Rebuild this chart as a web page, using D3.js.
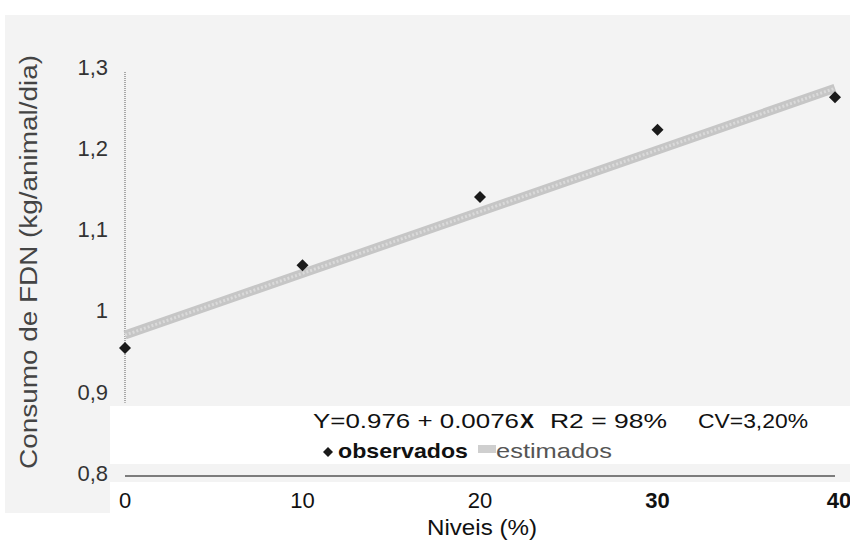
<!DOCTYPE html>
<html>
<head>
<meta charset="utf-8">
<script src="https://cdn.jsdelivr.net/npm/d3@7"></script>
<style>
  body { margin: 0; background: #fff; }
  svg { display: block; font-family: "Liberation Sans", Arial, sans-serif; }
</style>
</head>
<body>
<svg id="chart" width="850" height="551"></svg>
<script>
// observed FDN intake per level
const niveis = [0, 10, 20, 30, 40];
const observados = [0.96, 1.062, 1.146, 1.229, 1.269];
// regression Y = 0.976 + 0.0076X
const intercept = 0.976;
const slope = 0.0076;
const yTicks = [0.8, 0.9, 1.0, 1.1, 1.2, 1.3];
const xTicks = [0, 10, 20, 30, 40];

const svg = d3.select('#chart');

const x = d3.scaleLinear().domain([0, 40]).range([125, 835]);
const y = d3.scaleLinear().domain([0.8, 1.3]).range([478, 72]);

// scanned page background
svg.append('rect')
    .attr('x', 5).attr('y', 15)
    .attr('width', 845).attr('height', 498)
    .attr('fill', '#f3f3f3');

// white patches pasted over the scan
svg.append('rect')
    .attr('x', 110).attr('y', 482)
    .attr('width', 740).attr('height', 69)
    .attr('fill', '#fff');
svg.append('rect')
    .attr('x', 110).attr('y', 406)
    .attr('width', 740).attr('height', 58)
    .attr('fill', '#fff');

// y axis (dotted)
svg.append('line')
    .attr('x1', x(0)).attr('x2', x(0))
    .attr('y1', y(1.3)).attr('y2', y(0.9) + 6)
    .attr('stroke', '#777')
    .attr('stroke-width', 1.2)
    .attr('stroke-dasharray', '1,1');

// x axis line
svg.append('line')
    .attr('x1', x(0)).attr('x2', x(40))
    .attr('y1', 476).attr('y2', 476)
    .attr('stroke', '#555')
    .attr('stroke-width', 1.6);

// y tick labels
const fmt = v => v === 1 ? '1' : d3.format('.1f')(v).replace('.', ',');
svg.selectAll('.ytick')
    .data(yTicks)
    .enter().append('text')
    .attr('x', 108)
    .attr('y', d => y(d) - 3)
    .attr('text-anchor', 'end')
    .attr('dominant-baseline', 'middle')
    .attr('font-size', 22)
    .attr('fill', '#333')
    .text(fmt);

// x tick labels (30 and 40 come out bold in the original)
svg.selectAll('.xtick')
    .data(xTicks)
    .enter().append('text')
    .attr('x', d => x(d) + (d === 40 ? 4 : 0))
    .attr('y', 508)
    .attr('text-anchor', 'middle')
    .attr('font-size', 22)
    .attr('font-weight', d => d >= 30 ? 'bold' : 'normal')
    .attr('fill', '#111')
    .text(d => d);

// axis titles
svg.append('text')
    .attr('x', 427).attr('y', 535)
    .attr('font-size', 22)
    .attr('textLength', 110)
    .attr('lengthAdjust', 'spacingAndGlyphs')
    .attr('fill', '#111')
    .text('Niveis (%)');

svg.append('text')
    .attr('transform', 'translate(37,262) rotate(-90)')
    .attr('x', -207)
    .attr('font-size', 23)
    .attr('textLength', 414)
    .attr('lengthAdjust', 'spacingAndGlyphs')
    .attr('fill', '#444')
    .text('Consumo de FDN (kg/animal/dia)');

// estimated line
const line = d3.line()
    .x(d => x(d))
    .y(d => y(intercept + slope * d));

svg.append('path')
    .datum([0, 40])
    .attr('d', line)
    .attr('fill', 'none')
    .attr('stroke', '#c6c6c6')
    .attr('stroke-width', 9);
svg.append('path')
    .datum([0, 40])
    .attr('d', line)
    .attr('fill', 'none')
    .attr('stroke', '#dadada')
    .attr('stroke-width', 3)
    .attr('stroke-dasharray', '2,2');

// observed points
const diamond = d3.symbol().type(d3.symbolSquare).size(72);
svg.selectAll('.pt')
    .data(niveis)
    .enter().append('path')
    .attr('transform', (d, i) => `translate(${x(d)},${y(observados[i])}) rotate(45)`)
    .attr('d', diamond)
    .attr('fill', '#1a1a1a');

// legend
const eq = svg.append('text')
    .attr('y', 428)
    .attr('font-size', 21)
    .attr('fill', '#111');
eq.append('tspan').attr('x', 313)
    .attr('textLength', 206).attr('lengthAdjust', 'spacingAndGlyphs')
    .text('Y=0.976 + 0.0076');
eq.append('tspan').attr('x', 520).attr('font-weight', 'bold').text('X');
eq.append('tspan').attr('x', 550)
    .attr('textLength', 117).attr('lengthAdjust', 'spacingAndGlyphs')
    .text('R2 = 98%');
eq.append('tspan').attr('x', 698)
    .attr('textLength', 110).attr('lengthAdjust', 'spacingAndGlyphs')
    .text('CV=3,20%');

svg.append('path')
    .attr('transform', 'translate(328,452) rotate(45)')
    .attr('d', d3.symbol().type(d3.symbolSquare).size(50))
    .attr('fill', '#1a1a1a');
svg.append('text')
    .attr('x', 338).attr('y', 458)
    .attr('font-size', 21)
    .attr('font-weight', 'bold')
    .attr('textLength', 130)
    .attr('lengthAdjust', 'spacingAndGlyphs')
    .attr('fill', '#111')
    .text('observados');

svg.append('rect')
    .attr('x', 478).attr('y', 445)
    .attr('width', 18).attr('height', 8)
    .attr('fill', '#cfcfcf');
svg.append('text')
    .attr('x', 496).attr('y', 458)
    .attr('font-size', 21)
    .attr('textLength', 116)
    .attr('lengthAdjust', 'spacingAndGlyphs')
    .attr('fill', '#555')
    .text('estimados');
</script>
</body>
</html>
